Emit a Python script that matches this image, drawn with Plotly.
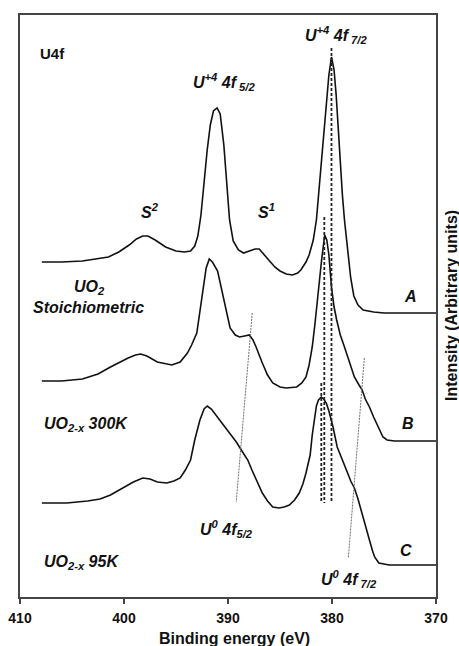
import plotly.graph_objects as go

# ---------------- data ----------------
# Binding energy (eV) and intensity (arbitrary units, curves offset vertically)
ev_a = [407.9, 406.0, 404.0, 402.5, 401.5, 400.5, 399.5, 398.8, 398.2, 397.7, 397.0, 396.0, 395.0,
        394.2, 393.6, 393.2, 392.9, 392.6, 392.3, 392.0, 391.7, 391.4, 391.05, 390.75, 390.4, 390.1,
        389.85, 389.5, 389.0, 388.5, 388.0, 387.4, 387.0, 386.5, 386.0, 385.5, 385.0, 384.4, 383.8,
        383.3, 383.0, 382.5, 382.2, 381.8, 381.5, 381.2, 380.9, 380.6, 380.3, 380.05, 379.8, 379.6,
        379.3, 379.0, 378.8, 378.5, 378.2, 377.9, 377.5, 377.0, 376.0, 375.0, 373.0, 370.0]
int_a = [335, 335, 336, 338, 340, 345, 352, 358, 361, 361, 357, 350, 346,
         345, 346, 351, 361, 382, 417, 447, 472, 486, 489, 483, 452, 407,
         377, 356, 347, 344, 346, 348, 348, 342, 336, 330, 326, 323, 322,
         324, 327, 335, 342, 357, 377, 412, 447, 487, 522, 540, 527, 502,
         447, 402, 377, 347, 319, 301, 292, 287, 285, 284, 284, 284]

ev_b = [407.9, 406.0, 404.0, 402.5, 401.3, 400.4, 399.6, 398.9, 398.4, 397.8, 396.8, 395.4, 394.6,
        393.9, 393.5, 393.0, 392.7, 392.4, 392.1, 391.8, 391.5, 391.0, 390.6, 390.2, 389.8, 389.3,
        388.9, 388.4, 387.95, 387.6, 387.3, 386.7, 386.2, 385.7, 385.0, 384.4, 383.4, 382.9, 382.5,
        382.2, 381.9, 381.65, 381.4, 381.2, 381.0, 380.85, 380.7, 380.5, 380.3, 380.05, 379.8, 379.55,
        379.2, 378.8, 378.3, 377.85, 377.4, 377.1, 376.8, 376.4, 376.0, 375.7, 375.4, 375.1, 374.7,
        374.0, 372.0, 370.0]
int_b = [216, 216, 218, 223, 230, 235, 239, 242, 243, 241, 235, 232, 235,
         244, 252, 264, 287, 310, 329, 338, 335, 326, 307, 285, 269, 262,
         260, 261, 262, 257, 250, 234, 222, 214, 210, 209, 210, 214, 220,
         232, 250, 272, 294, 317, 337, 352, 362, 357, 342, 310, 290, 277,
         262, 250, 235, 220, 212, 207, 198, 190, 180, 173, 166, 160, 157,
         156, 156, 156]

ev_c = [407.9, 405.5, 403.5, 402.3, 401.3, 400.4, 399.1, 398.2, 397.5, 396.8, 395.9, 395.2, 394.6,
        394.1, 393.6, 393.2, 392.7, 392.3, 392.0, 391.6, 391.0, 390.4, 389.8, 389.2, 388.6, 388.1,
        387.7, 387.2, 386.7, 386.2, 385.7, 385.1, 384.6, 384.1, 383.6, 383.15, 382.8, 382.5, 382.3,
        382.1, 381.9, 381.7, 381.5, 381.3, 381.03, 380.8, 380.55, 380.3, 380.07, 379.9, 379.5, 379.0,
        378.5, 378.2, 377.85, 377.5, 377.1, 376.8, 376.4, 376.1, 375.9, 375.5, 374.5, 372.0, 370.0]
int_c = [94, 94, 96, 98, 102, 107, 115, 119, 118, 115, 114, 116, 119,
         127, 137, 157, 177, 188, 191, 188, 180, 172, 164, 155, 145, 137,
         127, 115, 104, 96, 90, 89, 90, 92, 97, 104, 113, 124, 133,
         142, 162, 179, 191, 197, 200, 198, 194, 186, 177, 170, 150, 136,
         124, 116, 109, 98, 84, 71, 57, 46, 40, 34, 32, 32, 32]

# U+4 4f7/2 peak positions (dashed markers): A, B, C
peak_ev = [380.05, 380.74, 381.03]
peak_top = [549, 380, 214]
peak_bottom = 94

# U0 guide lines (start/end points)
u0_52_ev = [387.67, 389.21]
u0_52_int = [284, 95]
u0_72_ev = [376.89, 378.43]
u0_72_int = [239, 39]

x_ticks = [410, 400, 390, 380, 370]

FONT = "Liberation Sans, Arial, sans-serif"

fig = go.Figure()

for ev, it, name in [(ev_a, int_a, "A"), (ev_b, int_b, "B"), (ev_c, int_c, "C")]:
    fig.add_trace(go.Scatter(x=ev, y=it, mode="lines", name=name,
                             line=dict(color="#111111", width=1.6), showlegend=False))

for pe, pt in zip(peak_ev, peak_top):
    fig.add_trace(go.Scatter(x=[pe, pe], y=[pt, peak_bottom], mode="lines",
                             line=dict(color="#222222", width=1.8, dash="3px,2px"),
                             showlegend=False))

for xs, ys in [(u0_52_ev, u0_52_int), (u0_72_ev, u0_72_int)]:
    fig.add_trace(go.Scatter(x=xs, y=ys, mode="lines",
                             line=dict(color="#707070", width=1, dash="2px,1px"),
                             showlegend=False))

def ann(text, x, y, size=16):
    fig.add_annotation(x=x, y=y, xref="x", yref="y", text=text, showarrow=False,
                       font=dict(family=FONT, size=size, color="#111111"),
                       xanchor="center", yanchor="middle")

ann("<b>U4f</b>", 406.9, 544, 15)
ann("<b><i>U<sup>+4</sup> 4f<sub> 5/2</sub></i></b>", 390.4, 515)
ann("<b><i>U<sup>+4</sup> 4f<sub> 7/2</sub></i></b>", 379.6, 562)
ann("<b><i>S<sup>2</sup></i></b>", 397.5, 386)
ann("<b><i>S<sup>1</sup></i></b>", 386.3, 386)
ann("<b><i>UO<sub>2</sub></i></b>", 403.3, 310)
ann("<b><i>Stoichiometric</i></b>", 403.45, 290)
ann("<b><i>A</i></b>", 372.5, 301)
ann("<b><i>B</i></b>", 372.7, 174)
ann("<b><i>C</i></b>", 372.85, 47)
ann("<b><i>UO<sub>2-x</sub> 300K</i></b>", 403.65, 173)
ann("<b><i>UO<sub>2-x</sub> 95K</i></b>", 404.1, 35)
ann("<b><i>U<sup>0</sup> 4f<sub>5/2</sub></i></b>", 390.1, 68)
ann("<b><i>U<sup>0</sup> 4f<sub> 7/2</sub></i></b>", 378.4, 18)

# axis titles
fig.add_annotation(x=1, y=0.5, xref="paper", yref="paper", xshift=15,
                   text="<b>Intensity (Arbitrary units)</b>", textangle=-90, showarrow=False,
                   font=dict(family=FONT, size=16, color="#111111"),
                   xanchor="center", yanchor="middle")
fig.add_annotation(x=0.5, y=0, xref="paper", yref="paper", yshift=-41, xshift=6,
                   text="<b>Binding energy (eV)</b>", showarrow=False,
                   font=dict(family=FONT, size=16, color="#111111"),
                   xanchor="center", yanchor="middle")

fig.update_layout(
    width=459, height=646,
    margin=dict(l=20, r=23, t=15, b=49),
    paper_bgcolor="white", plot_bgcolor="white",
    font=dict(family=FONT, color="#111111"),
    xaxis=dict(range=[410, 370], tickmode="array", tickvals=x_ticks,
               ticks="outside", ticklen=5, tickwidth=1.5, tickcolor="#444444",
               ticklabelstandoff=2, automargin=False,
               showline=True, linecolor="#444444", linewidth=1.5, mirror=True,
               showgrid=False, zeroline=False,
               tickfont=dict(family=FONT, size=14, weight="bold", color="#111111")),
    yaxis=dict(range=[0, 582], showticklabels=False, ticks="", automargin=False,
               showline=True, linecolor="#444444", linewidth=1.5, mirror=True,
               showgrid=False, zeroline=False),
)

fig.write_html("out.html")
